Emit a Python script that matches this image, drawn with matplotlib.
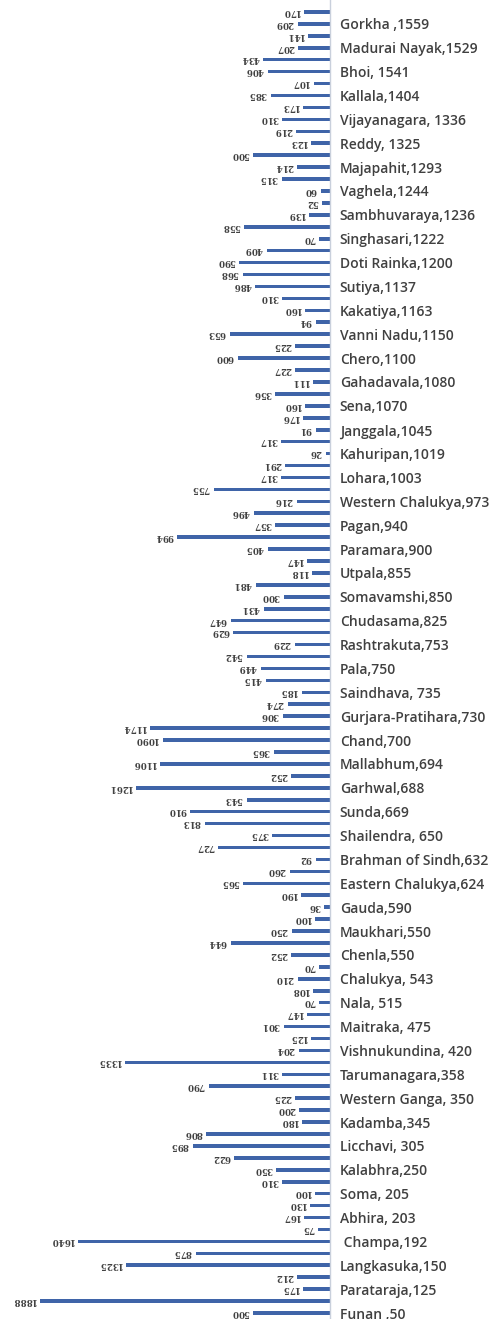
import matplotlib
matplotlib.use("Agg")
import matplotlib.pyplot as plt

# dynasty labels (every second bar carries one), listed top to bottom
labels = [
    "Gorkha ,1559", "Madurai Nayak,1529", "Bhoi, 1541", "Kallala,1404",
    "Vijayanagara, 1336", "Reddy, 1325", "Majapahit,1293", "Vaghela,1244",
    "Sambhuvaraya,1236", "Singhasari,1222", "Doti Rainka,1200", "Sutiya,1137",
    "Kakatiya,1163", "Vanni Nadu,1150", "Chero,1100", "Gahadavala,1080",
    "Sena,1070", "Janggala,1045", "Kahuripan,1019", "Lohara,1003",
    "Western Chalukya,973", "Pagan,940", "Paramara,900", "Utpala,855",
    "Somavamshi,850", "Chudasama,825", "Rashtrakuta,753", "Pala,750",
    "Saindhava, 735", "Gurjara-Pratihara,730", "Chand,700", "Mallabhum,694",
    "Garhwal,688", "Sunda,669", "Shailendra, 650", "Brahman of Sindh,632",
    "Eastern Chalukya,624", "Gauda,590", "Maukhari,550", "Chenla,550",
    "Chalukya, 543", "Nala, 515", "Maitraka, 475", "Vishnukundina, 420",
    "Tarumanagara,358", "Western Ganga, 350", "Kadamba,345", "Licchavi, 305",
    "Kalabhra,250", "Soma, 205", "Abhira, 203", " Champa,192",
    "Langkasuka,150", "Parataraja,125", "Funan ,50",
]

# bar values, top to bottom
values = [
    170, 209, 141, 207, 434, 406, 107, 385, 173, 310,
    219, 123, 500, 214, 315, 60, 52, 139, 558, 70,
    409, 590, 568, 486, 310, 160, 94, 653, 225, 600,
    227, 111, 356, 160, 176, 91, 317, 26, 291, 317,
    755, 216, 496, 357, 994, 405, 147, 118, 481, 300,
    431, 647, 629, 229, 542, 449, 415, 185, 274, 306,
    1174, 1090, 365, 1106, 252, 1261, 543, 910, 813, 375,
    727, 92, 260, 565, 190, 36, 100, 250, 644, 252,
    70, 210, 108, 70, 147, 301, 125, 204, 1335, 311,
    790, 225, 200, 180, 806, 895, 622, 350, 310, 100,
    130, 167, 75, 1640, 875, 1325, 212, 175, 1888, 500,
]

n = len(values)
ypos = [n - 1 - i for i in range(n)]          # bottom bar at 0
label_pos = [2 * k for k in range(len(labels))][::-1]

fig = plt.figure(figsize=(4.92, 13.19), dpi=100)
ax = fig.add_axes([0, 0, 330 / 492, 1])

ax.barh(ypos, values, height=0.3, color="#3f64a8")
ax.set_xlim(2148, 0)
ax.set_ylim(-0.5, 110)

# value labels, upside down, just past the end of each bar
for y, v in zip(ypos, values):
    ax.annotate(str(v), (v, y), xytext=(-3, 0.5), textcoords="offset points",
                ha="right", va="center", rotation=180, fontsize=6.2,
                fontweight="bold", color="#404040", family="DejaVu Serif")

ax.yaxis.tick_right()
ax.set_yticks(label_pos)
ax.set_yticklabels(labels, fontsize=10, color="#404040", family="Open Sans",
                   fontweight="semibold")
ax.tick_params(axis="y", length=0, pad=7)
ax.set_xticks([])

for s in ["top", "left", "bottom"]:
    ax.spines[s].set_visible(False)
ax.spines["right"].set_color("#c9d0dc")
ax.spines["right"].set_linewidth(1.0)

fig.savefig("out.png", dpi=100)
